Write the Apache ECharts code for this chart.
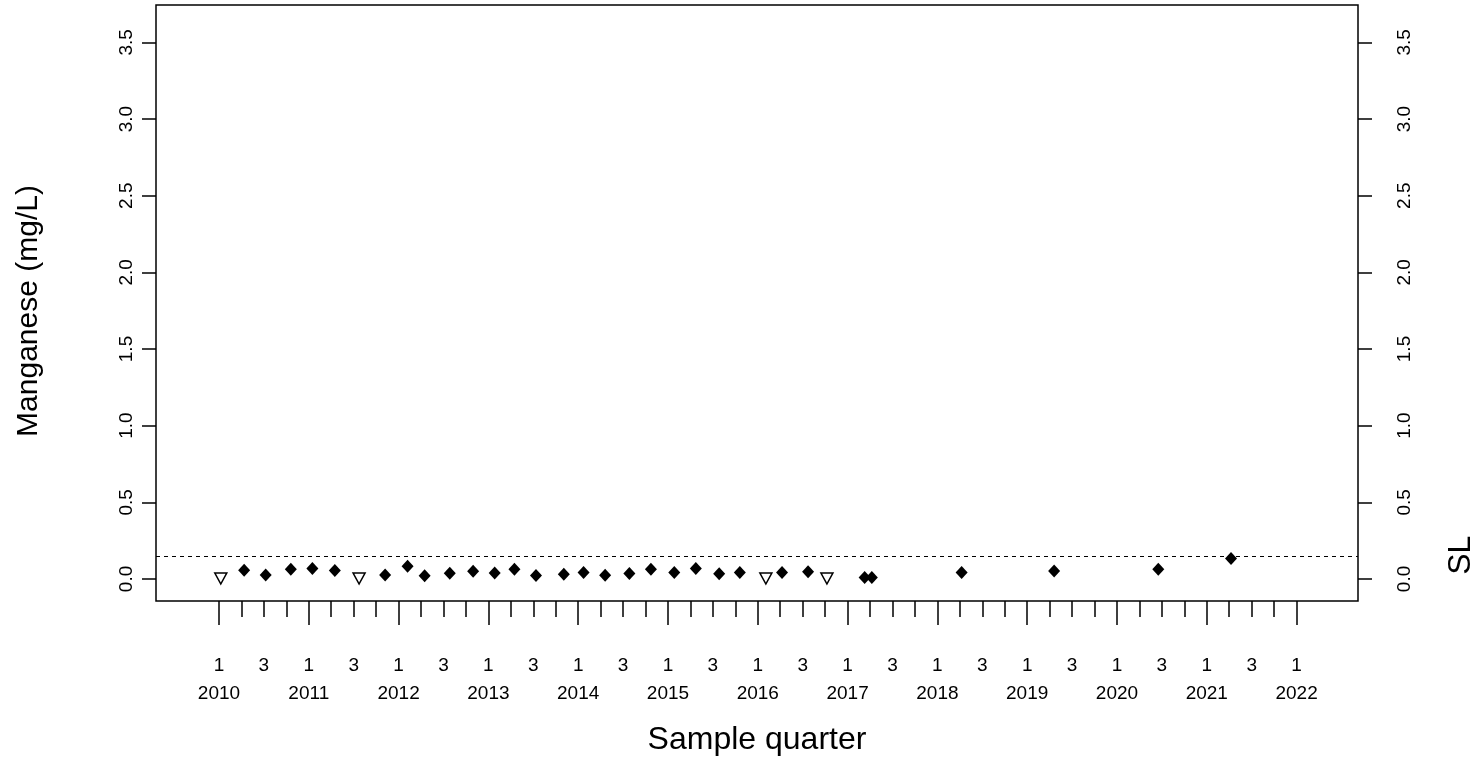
<!DOCTYPE html>
<html>
<head>
<meta charset="utf-8">
<script src="https://cdn.jsdelivr.net/npm/echarts@6/dist/echarts.min.js"></script>
<style>
  html, body { margin: 0; padding: 0; background: #fff; }
  #chart { width: 1483px; height: 761px; }
</style>
</head>
<body>
<div id="chart"></div>
<script>
// Sample times as decimal years (Q1 tick = start of year)
const detectTimes = [2010.28, 2010.52, 2010.80, 2011.04, 2011.29, 2011.85, 2012.10, 2012.29,
  2012.57, 2012.83, 2013.07, 2013.29, 2013.53, 2013.84, 2014.06, 2014.30, 2014.57, 2014.81,
  2015.07, 2015.31, 2015.57, 2015.80, 2016.27, 2016.56, 2017.19, 2017.27, 2018.27, 2019.30,
  2020.46, 2021.27];
// Manganese concentrations (mg/L) for detected results
const detectValues = [0.057, 0.026, 0.063, 0.068, 0.055, 0.026, 0.083, 0.020,
  0.037, 0.050, 0.039, 0.063, 0.022, 0.031, 0.042, 0.024, 0.035, 0.063,
  0.042, 0.068, 0.033, 0.042, 0.042, 0.046, 0.009, 0.009, 0.042, 0.052,
  0.063, 0.133];
// Non-detects, plotted at the reporting limit
const nondetectTimes = [2010.02, 2011.56, 2016.09, 2016.77];
const nondetectValues = [0.003, 0.003, 0.003, 0.003];
// Screening level
const slValue = 0.155;

const yearTicks = [2010, 2011, 2012, 2013, 2014, 2015, 2016, 2017, 2018, 2019, 2020, 2021, 2022];
const quarterLabels = ['1', '2', '3', '4'];
const shownQuarters = ['1', '3'];
const yTicks = [0, 0.5, 1, 1.5, 2, 2.5, 3, 3.5];

const quarterTicks = [];
yearTicks.forEach(function (y, i) {
  const n = i === yearTicks.length - 1 ? 1 : 4;
  for (let q = 0; q < n; q++) quarterTicks.push(y + q / 4);
});
const quarterLabelPos = quarterTicks.filter(function (t) {
  const q = quarterLabels[Math.round((t - Math.floor(t)) * 4)];
  return shownQuarters.indexOf(q) >= 0;
});

const FONT = 'Liberation Sans, Arial, sans-serif';
const xMin = 2009.2985, xMax = 2022.684;
const yMin = -0.144, yMax = 3.744;

function yAxisDef(pos, margin) {
  return {
    type: 'value', position: pos, min: yMin, max: yMax,
    axisLine: { show: false, onZero: false },
    splitLine: { show: false },
    axisTick: { show: true, length: 14, lineStyle: { color: '#000', width: 1.5 }, customValues: yTicks },
    axisLabel: {
      show: true, rotate: 90, margin: margin, color: '#000', fontFamily: FONT, fontSize: 19,
      customValues: yTicks,
      formatter: function (v) { return v.toFixed(1); }
    }
  };
}

const chart = echarts.init(document.getElementById('chart'));
const left = yAxisDef('left', 20);
left.name = 'Manganese (mg/L)';
left.nameLocation = 'middle';
left.nameGap = 112;
left.nameRotate = 90;
left.nameTextStyle = { color: '#000', fontFamily: FONT, fontSize: 30, padding: [0, 16, 0, 0] };

chart.setOption({
  animation: false,
  backgroundColor: '#fff',
  grid: { left: 156, right: 125, top: 5, bottom: 159, show: true, borderColor: '#000', borderWidth: 1.5, backgroundColor: 'transparent' },
  xAxis: [
    {
      type: 'value', position: 'bottom', min: xMin, max: xMax,
      axisLine: { show: false, onZero: false }, splitLine: { show: false },
      axisTick: { show: true, length: 24, lineStyle: { color: '#000', width: 1.5 }, customValues: yearTicks },
      axisLabel: { show: true, margin: 83, color: '#000', fontFamily: FONT, fontSize: 19, customValues: yearTicks,
        formatter: function (v) { return String(Math.round(v)); } },
      name: 'Sample quarter', nameLocation: 'middle', nameGap: 123,
      nameTextStyle: { color: '#000', fontFamily: FONT, fontSize: 32 }
    },
    {
      type: 'value', position: 'bottom', min: xMin, max: xMax,
      axisLine: { show: false, onZero: false }, splitLine: { show: false },
      axisTick: { show: true, length: 16, lineStyle: { color: '#000', width: 1.5 }, customValues: quarterTicks },
      axisLabel: { show: true, margin: 55, color: '#000', fontFamily: FONT, fontSize: 19, customValues: quarterLabelPos,
        formatter: function (v) { return quarterLabels[Math.round((v - Math.floor(v)) * 4)]; } }
    }
  ],
  yAxis: [left, yAxisDef('right', 37)],
  series: [
    {
      type: 'scatter', xAxisIndex: 0, yAxisIndex: 0,
      data: detectTimes.map(function (t, i) { return [t, detectValues[i]]; }),
      symbol: 'diamond', symbolSize: [12, 13],
      itemStyle: { color: '#000', opacity: 1 },
      markLine: {
        silent: true, symbol: 'none', label: { show: false },
        lineStyle: { color: '#000', type: [4, 4], width: 1 },
        data: [{ yAxis: slValue }]
      }
    },
    {
      type: 'scatter', xAxisIndex: 0, yAxisIndex: 0,
      data: nondetectTimes.map(function (t, i) { return [t, nondetectValues[i]]; }),
      symbol: 'triangle', symbolRotate: 180, symbolSize: [12, 11],
      itemStyle: { color: '#fff', borderColor: '#000', borderWidth: 1.5, opacity: 1 }
    }
  ]
});

// "SL" tag on the right margin, level with the screening-level line
const slY = chart.convertToPixel({ yAxisIndex: 0 }, slValue);
chart.setOption({
  graphic: [{
    type: 'text', x: 1461, y: slY, rotation: Math.PI / 2,
    style: { text: 'SL', fill: '#000', font: '32px ' + FONT, textAlign: 'center', textVerticalAlign: 'middle' }
  }]
});
</script>
</body>
</html>
